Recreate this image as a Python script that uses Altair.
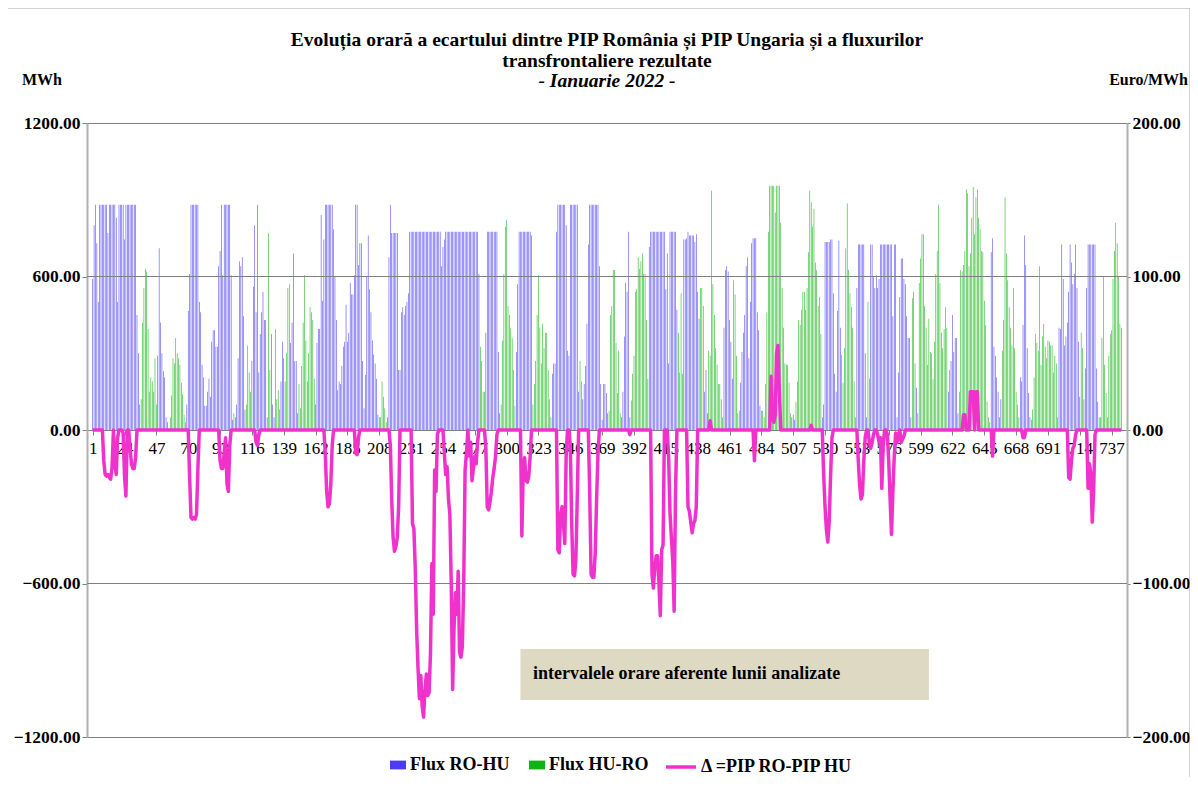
import altair as alt
import pandas as pd

# ---------------- data ----------------
# Hourly net flow, MWh, one row per day (24 hours): positive = Flux RO-HU, negative = Flux HU-RO
flux_net = [
    [590,800,880,730,500,880,880,880,880,880,880,770,880,880,880,880,880,830,500,880,880,880,880,745],
    [880,880,880,880,880,880,880,880,450,300,100,-120,-420,-555,-630,-620,-395,-150,-205,-190,-150,-280,-100,290],
    [710,420,300,230,205,50,30,0,-50,-135,-280,-260,-360,-300,-280,-255,-185,-140,-60,-30,100,465,610,880],
    [880,880,880,880,880,500,460,255,205,95,95,150,200,130,345,390,390,325,325,640,700,880,605,880],
    [880,880,880,880,605,40,-65,50,100,280,660,640,675,445,80,-100,-330,-225,-150,270,560,800,460,880],
    [225,375,460,540,430,430,50,-770,-235,375,100,50,-395,-120,-155,-80,190,345,280,-190,-300,-555,-570,340],
    [420,690,270,270,65,-180,-85,-250,-420,-605,-350,-190,-300,-480,-460,-430,-200,100,340,395,395,840,505,745],
    [880,880,880,880,880,880,785,600,430,155,190,180,250,325,345,490,345,380,575,530,530,605,880,880],
    [645,730,730,270,85,215,600,760,550,460,350,295,260,200,60,-50,-50,-190,-130,-85,-30,50,675,880],
    [770,770,770,770,770,235,235,460,480,450,485,500,535,775,775,775,775,775,775,775,775,775,775,775],
    [775,775,775,775,775,775,775,775,775,775,775,775,640,715,745,775,775,775,775,775,775,775,775,775],
    [775,775,775,775,775,775,775,775,775,775,775,775,775,775,775,610,-325,-270,-150,-150,380,775,775,775],
    [775,775,775,775,775,305,65,-100,-350,-610,-795,-820,-485,-450,-400,-360,-235,-95,305,570,775,775,775,775],
    [775,775,775,775,775,760,-100,-180,-270,-450,-605,-400,-260,-415,-320,-380,-380,-235,-120,-50,220,260,260,775],
    [880,880,880,880,880,880,800,310,290,880,880,880,880,880,880,150,-270,-190,120,180,250,415,725,880],
    [880,880,880,880,880,880,640,180,40,180,180,145,65,-75,-450,-485,-625,-625,-340,-145,-310,-65,50,150],
    [365,575,540,775,50,-115,-220,-290,-540,-550,-675,-630,-660,-690,-610,-610,-430,-200,715,775,775,775,775,775],
    [775,775,775,775,775,775,550,690,260,775,775,775,775,775,470,-380,-225,-535,-220,745,745,750,775,760],
    [760,760,760,735,765,540,435,-555,-555,-485,150,235,65,-310,-290,-935,-570,-450,-320,-255,-180,-180,-120,-50],
    [400,625,640,620,430,345,200,-585,-530,-290,-65,-75,185,305,380,450,640,675,280,500,730,750,750,750],
    [460,390,95,-75,-75,-50,-180,-460,-775,-955,-955,-955,-955,-850,-955,-955,-955,-810,-555,-400,-260,-255,-255,-185],
    [-65,50,60,40,-110,-190,-430,-410,-470,-540,-540,-470,-555,-695,-935,-890,-795,-865,-655,-625,-485,-520,-375,50],
    [100,735,735,735,735,745,745,535,220,150,465,740,400,-295,-185,-320,-710,-885,-625,-535,-480,-400,-190,-50],
    [555,725,725,725,725,725,300,50,-500,-200,725,725,600,555,605,555,590,725,725,725,725,725,725,725],
    [725,725,445,725,725,50,225,520,670,670,590,570,445,360,360,50,-515,-540,-260,165,-65,-575,-670,-765],
    [-765,-485,-400,-255,-435,-305,-300,-200,-345,-610,-700,-880,-575,-380,-320,-395,-480,-400,150,-235,270,450,305,360],
    [360,65,-150,-625,-620,-645,-700,-940,-925,-640,-690,-830,-950,-765,-910,-940,-830,-785,-700,-695,-505,-410,-110,-50],
    [-30,695,750,325,290,205,150,50,120,-310,-430,-910,-690,-585,-480,-400,-330,-555,-320,-150,-100,-50,205,190],
    [410,760,645,320,145,50,-40,-80,-205,-375,-340,-310,-640,-255,-365,-415,-325,-280,-350,-345,-330,-330,-225,-290],
    [-260,-50,400,395,725,590,330,365,420,540,725,655,570,610,725,555,345,130,-380,-320,120,240,555,725],
    [725,725,725,725,725,240,110,-50,-50,-360,-600,-255,-145,-50,-290,-375,-390,-590,-700,-810,-730,-600,-415,-400],
]

# Hourly Δ = PIP RO - PIP HU, Euro/MWh, one row per day
delta = [
    [0,0,0,0,0,0,0,0,-20,-29,-30,-29,-31,-32,-24,0,-22,-29,-5,0,0,0,-2,-30],
    [-43,0,0,-12,-22,-25,-25,-18,0,0,0,0,0,0,0,0,0,0,0,0,0,0,0,0],
    [0,0,0,0,0,0,0,0,0,0,0,0,0,0,0,0,0,0,0,0,0,0,-30,-57],
    [-58,-57,-58,-55,-25,0,0,0,0,0,0,0,0,0,0,0,0,0,0,0,-20,-25,-25,-15],
    [-5,-35,-40,-10,0,0,0,0,0,0,0,0,0,0,0,0,0,0,0,0,0,0,-8,-10],
    [-3,0,0,0,0,0,0,0,0,0,0,0,0,0,0,0,0,0,0,0,0,0,0,0],
    [0,0,0,0,0,0,0,0,0,0,0,0,0,0,0,0,0,0,0,0,0,0,0,0],
    [-15,-40,-50,-48,-35,-10,0,0,0,0,0,0,0,0,0,0,0,0,0,0,0,0,-15,-16],
    [-5,0,0,0,0,0,0,0,0,0,0,0,0,0,0,0,0,0,0,0,0,0,0,-10],
    [-45,-70,-79,-76,-70,-50,0,0,0,0,0,0,0,0,0,-61,-64,-90,-130,-155,-175,-160,-180,-187],
    [-170,-159,-173,-171,-145,-87,-120,-26,-40,-3,0,0,0,0,-15,-29,-24,-45,-55,-100,-169,-129,-106,-120],
    [-92,-145,-148,-141,-100,-26,-15,0,-17,-8,-33,-25,-17,-22,-8,0,0,0,0,0,-12,-50,-52,-47],
    [-40,-31,-25,-17,-3,0,0,0,0,0,0,0,0,0,0,0,0,0,0,0,0,0,-69,-26],
    [-18,-33,-34,-30,-17,0,0,0,0,0,0,0,0,0,0,0,0,0,0,0,0,0,0,0],
    [-78,-80,-55,-50,-60,-74,-17,0,0,-10,-60,-94,-95,-85,-45,0,0,0,0,0,0,0,0,-40],
    [-94,-96,-96,-80,-45,-15,0,0,0,0,0,0,0,0,0,0,0,0,0,0,0,0,0,0],
    [0,0,0,0,-3,0,0,0,0,0,0,0,0,0,0,0,0,0,0,0,-94,-103,-90,-82],
    [-82,-99,-121,-78,-75,0,0,0,-17,-54,-70,-85,-118,-40,0,0,0,0,0,0,0,0,-50,-53],
    [-60,-67,-61,-59,-50,0,0,0,0,0,0,0,0,0,6,0,0,0,0,0,0,0,0,0],
    [0,0,0,0,0,0,0,0,0,0,0,0,0,0,0,0,0,0,0,0,0,0,-20,0],
    [0,0,0,0,0,0,0,0,0,0,35,8,5,10,50,55,25,0,0,0,0,0,0,0],
    [0,0,0,0,0,0,0,0,0,0,0,0,0,0,0,3,0,0,0,0,0,0,0,0],
    [-29,-50,-65,-73,-60,-30,-5,0,0,0,0,0,0,0,0,0,0,0,0,0,0,0,0,0],
    [0,-20,-36,-45,-42,-20,-5,0,0,-8,-12,-8,-3,0,0,-3,-8,-5,-38,-10,0,0,-3,-20],
    [-45,-68,-40,-17,-2,-8,-3,0,-8,-6,-4,0,0,0,0,0,0,0,0,0,0,0,0,0],
    [0,0,0,0,0,0,0,0,0,0,0,0,0,0,0,0,0,0,0,0,0,0,0,0],
    [0,0,0,0,0,10,10,0,0,0,25,25,25,0,25,25,0,0,0,0,0,0,0,0],
    [0,0,-17,0,0,0,0,0,0,0,0,0,0,0,0,0,0,0,0,0,0,0,0,0],
    [-5,-5,0,0,0,0,0,0,0,0,0,0,0,0,0,0,0,0,0,0,0,0,0,0],
    [0,0,0,0,0,0,0,0,0,-31,-32,-20,-12,-10,-3,0,0,0,0,0,0,0,0,-38],
    [-22,-29,-60,-40,-3,0,0,0,0,0,0,0,0,0,0,0,0,0,0,0,0,0,0,0],
]

series_bars = ["Flux RO-HU", "Flux HU-RO"]
series_line = "\u0394 =PIP RO-PIP HU"
x_tick_labels = list(range(1, 745, 23))          # 1, 24, 47, ... 737
left_ticks = [-1200, -600, 0, 600, 1200]
right_ticks = [-200, -100, 0, 100, 200]
grid_values = [-600, 600]
box_hours = [310, 605]
box_mwh = [-856, -1055]
box_label = "intervalele orare aferente lunii analizate"
unit_labels = ["MWh", "Euro/MWh"]
title_lines = ["Evolu\u021bia orar\u0103 a ecartului dintre PIP Rom\u00e2nia \u0219i PIP Ungaria \u0219i a fluxurilor",
               "transfrontaliere rezultate"]
subtitle_line = "- Ianuarie 2022 -"

# ---------------- tables ----------------
flat_flux = [v for day in flux_net for v in day]
flat_delta = [v for day in delta for v in day]
hours = list(range(1, len(flat_flux) + 1))

bar_rows = []
for h, v in zip(hours, flat_flux):
    if v > 0:
        bar_rows.append({"ora": h, "mwh": v, "serie": series_bars[0]})
    elif v < 0:
        bar_rows.append({"ora": h, "mwh": -v, "serie": series_bars[1]})
bar_df = pd.DataFrame(bar_rows)
line_df = pd.DataFrame({"ora": hours, "delta": flat_delta, "serie": series_line})
grid_df = pd.DataFrame({"g": grid_values})
box_df = pd.DataFrame({"x0": [box_hours[0]], "x1": [box_hours[1]], "y0": [box_mwh[0]], "y1": [box_mwh[1]]})
label_df = pd.DataFrame({"x": [box_hours[0] + 9], "y": [(box_mwh[0] + box_mwh[1]) / 2], "t": [box_label]})

FONT = "Liberation Serif"
W, H = 1040, 614

x_scale = alt.Scale(domain=[0.5, 744.5], nice=False, zero=False)
y_left = alt.Scale(domain=[-1200, 1200], nice=False)
y_right = alt.Scale(domain=[-200, 200], nice=False)

x_axis = alt.Axis(values=x_tick_labels, format="d", title=None, offset=-H / 2, grid=False,
                  labelFlush=False, labelOverlap=False, labelFont=FONT, labelFontSize=17,
                  labelColor="black", labelPadding=5, tickSize=5, tickColor="#808080",
                  domainColor="#808080", domainWidth=1)
y_axis_left = alt.Axis(values=left_ticks, format=".2f", title=None, grid=False,
                       labelFont=FONT, labelFontSize=17.5, labelFontWeight="bold", labelColor="black",
                       labelPadding=2, tickSize=5, tickColor="#808080", domainColor="#b0b0b0",
                       domainWidth=2)
y_axis_right = alt.Axis(orient="right", values=right_ticks, format=".2f", title=None, grid=False,
                        labelFont=FONT, labelFontSize=17.5, labelFontWeight="bold", labelColor="black",
                        labelPadding=2, tickSize=3, tickColor="#808080", domainColor="#b0b0b0",
                        domainWidth=2)

bars = alt.Chart(bar_df).mark_bar(orient="vertical", width=0.55).encode(
    x=alt.X("ora:Q", scale=x_scale, axis=x_axis),
    y=alt.Y("mwh:Q", scale=y_left, axis=y_axis_left),
    color=alt.Color("serie:N", scale=alt.Scale(domain=series_bars, range=["#4b3cf2", "#12b212"]),
                    legend=alt.Legend(orient="none", legendX=302, legendY=633, direction="horizontal",
                                      title=None, symbolType="M-1,-0.55H1V0.55H-1Z", symbolSize=256,
                                      symbolStrokeWidth=0, labelFont=FONT, labelFontSize=18,
                                      labelFontWeight="bold", labelColor="black", labelOffset=3,
                                      labelLimit=400, columnPadding=18)),
)

grid = alt.Chart(grid_df).mark_rule(color="#808080", strokeWidth=1).encode(
    y=alt.Y("g:Q", scale=y_left, axis=y_axis_left)
)

box = alt.Chart(box_df).mark_rect(color="#ddd9c3").encode(
    x=alt.X("x0:Q", scale=x_scale, axis=x_axis), x2="x1",
    y=alt.Y("y0:Q", scale=y_left, axis=y_axis_left), y2="y1",
)
box_text = alt.Chart(label_df).mark_text(align="left", baseline="middle", font=FONT, fontSize=18,
                                         fontWeight="bold", color="black").encode(
    x=alt.X("x:Q", scale=x_scale, axis=x_axis),
    y=alt.Y("y:Q", scale=y_left, axis=y_axis_left),
    text="t:N",
)

unit_left = alt.Chart(alt.Data(values=[{"t": unit_labels[0]}])).mark_text(
    align="left", baseline="middle", font=FONT, fontSize=16, fontWeight="bold", color="black"
).encode(x=alt.value(-65), y=alt.value(-43), text="t:N")
unit_right = alt.Chart(alt.Data(values=[{"t": unit_labels[1]}])).mark_text(
    align="right", baseline="middle", font=FONT, fontSize=16, fontWeight="bold", color="black"
).encode(x=alt.value(1101), y=alt.value(-43), text="t:N")

frame = alt.Chart(alt.Data(values=[{"k": 0}])).mark_rect(
    fillOpacity=0, stroke="#a6a6a6", strokeWidth=1
).encode(x=alt.value(-80), x2=alt.value(1103), y=alt.value(-115), y2=alt.value(658))

left_group = alt.layer(bars, grid, box, box_text, unit_left, unit_right, frame)

line = alt.Chart(line_df).mark_line(strokeWidth=3.5, strokeJoin="round").encode(
    x=alt.X("ora:Q", scale=x_scale, axis=x_axis),
    y=alt.Y("delta:Q", scale=y_right, axis=y_axis_right),
    stroke=alt.Stroke("serie:N", scale=alt.Scale(domain=[series_line], range=["#f032cc"]),
                      legend=alt.Legend(orient="none", legendX=577, legendY=627, direction="horizontal",
                                        title=None, symbolType="stroke", symbolSize=900,
                                        symbolStrokeWidth=3.5, labelFont=FONT, labelFontSize=18,
                                        labelFontWeight="bold", labelColor="black", labelOffset=3,
                                        labelLimit=400)),
)

chart = alt.layer(left_group, line).resolve_scale(y="independent").properties(
    width=W, height=H,
    autosize=alt.AutoSizeParams(type="none"),
    padding={"left": 79, "top": 115, "right": 63, "bottom": 40},
    title=alt.Title(text=title_lines, subtitle=subtitle_line, anchor="middle", frame="group",
                    font=FONT, fontSize=19.5, fontWeight="bold", color="black", lineHeight=21,
                    subtitleFont=FONT, subtitleFontSize=19.5, subtitleFontWeight="bold",
                    subtitleFontStyle="italic", subtitleColor="black", subtitlePadding=1,
                    offset=-84),
    background="white",
).configure_view(stroke="#808080", strokeWidth=1)

chart.save("out.html", embed_options={"renderer": "svg", "actions": False})
